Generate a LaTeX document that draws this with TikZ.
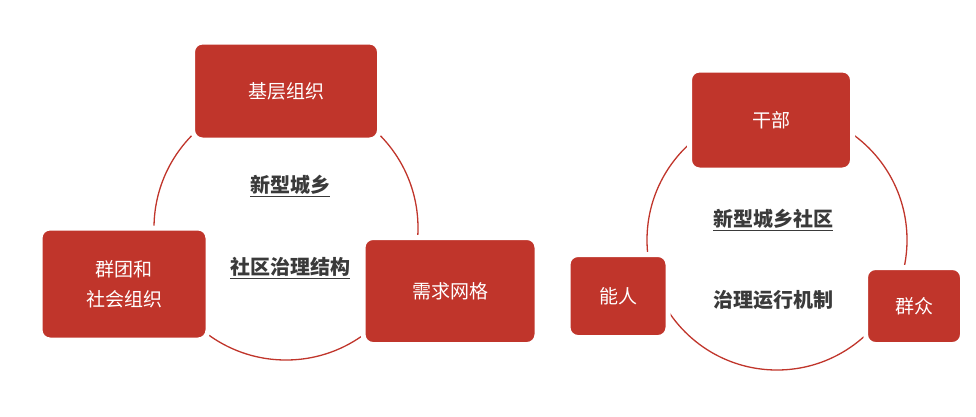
\documentclass[tikz,border=0pt]{standalone}
\usepackage{fontspec}
\setmainfont{Noto Sans CJK SC}
\definecolor{rd}{HTML}{C0352B}
\definecolor{tx}{HTML}{3A3A3A}
\begin{document}
\begin{tikzpicture}[x=1pt,y=-1pt,
  box/.style={fill=rd,draw=white,line width=5pt,rounded corners=10pt,text=white,font=\fontsize{19}{24}\selectfont,align=center,inner sep=0pt},
  ttl/.style={text=tx,font=\bfseries\fontsize{20}{24}\selectfont}]
\useasboundingbox (0,0) rectangle (976,416);
\draw[rd,line width=1.3pt] (286,228) circle (132);
\draw[rd,line width=1.3pt] (777,240) circle (130);
\node[ttl] (t1) at (290,186) {\underline{新型城乡}};
\node[ttl] (t2) at (290,268) {\underline{社区治理结构}};
\node[ttl] (t3) at (773,220) {\underline{新型城乡社区}};
\node[ttl] (t4) at (773,300) {治理运行机制};
\node[box,minimum width=187pt,minimum height=98pt] (a) at (286,91) {基层组织};
\node[box,minimum width=168pt,minimum height=112pt] (b) at (124,284) {群团和\\[6pt]社会组织};
\node[box,minimum width=174pt,minimum height=107pt] (c) at (450,291) {需求网格};
\node[box,minimum width=163pt,minimum height=100pt] (d) at (771,120) {干部};
\node[box,minimum width=100pt,minimum height=83pt] (e) at (618,296) {能人};
\node[box,minimum width=97pt,minimum height=77pt] (f) at (914,306) {群众};
\end{tikzpicture}
\end{document}
